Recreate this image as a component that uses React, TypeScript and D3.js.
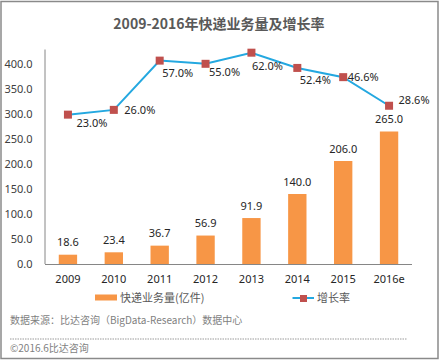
import React from "react";
import * as d3 from "d3";

const categories = ["2009", "2010", "2011", "2012", "2013", "2014", "2015", "2016e"];
const volume = [18.6, 23.4, 36.7, 56.9, 91.9, 140.0, 206.0, 265.0];
const growth = [23.0, 26.0, 57.0, 55.0, 62.0, 52.4, 46.6, 28.6];
const yTicks = [0, 50, 100, 150, 200, 250, 300, 350, 400];

// layout: manual label offsets for growth labels (dx, dy) relative to marker
const growthLabelOffsets: [number, number][] = [
  [24, 8], [26, 0], [18, 12], [19, 8], [16, 13], [18, 12], [20, 0], [25, -6],
];

const W = 440, H = 361;
const left = 45, right = 412, top = 49.5, bottom = 264;
const font = "'Noto Sans', 'Noto Sans CJK SC', sans-serif";
const cjk = "'Noto Sans CJK SC', 'Noto Sans', sans-serif";

export default function App() {
  const xc = d3.scaleBand<string>().domain(categories).range([left, right]);
  const y = d3.scaleLinear().domain([0, 429]).range([bottom, top]);
  const y2 = d3.scaleLinear().domain([-71, 64]).range([bottom, top]);
  const cxOf = (c: string) => xc(c)! + xc.bandwidth() / 2;
  const line = d3.line<number>().x((_, i) => cxOf(categories[i])).y((d) => y2(d));
  const bw = xc.bandwidth() * 0.4;

  return (
    <svg width={W} height={H} style={{ position: "absolute", left: 0, top: 0 }}>
      <rect x={0} y={0} width={W} height={H} fill="#fff" />
      <rect x={1} y={1.5} width={437} height={357} fill="none" stroke="#8a8a8a" strokeWidth={1.5} />
      <text x={219} y={28.5} textAnchor="middle" fontFamily={cjk} fontSize={14} fontWeight="bold" fill="#595959">
        2009-2016年快递业务量及增长率
      </text>
      {yTicks.map((t) => (
        <text key={t} x={32.5} y={y(t) + 4} textAnchor="end" fontFamily={font} fontSize={11} fill="#404040">
          {t.toFixed(1)}
        </text>
      ))}
      {categories.map((c, i) => {
        const cx = cxOf(c);
        return (
          <g key={c}>
            <rect x={cx - bw / 2} y={y(volume[i])} width={bw} height={bottom - y(volume[i])} fill="#F79646" />
            <text x={cx} y={y(volume[i]) - 8.5} textAnchor="middle" fontFamily={font} fontSize={11} fill="#262626">
              {volume[i].toFixed(1)}
            </text>
            <text x={cx} y={282.5} textAnchor="middle" fontFamily={font} fontSize={11} fill="#262626">
              {c}
            </text>
          </g>
        );
      })}
      <line x1={left} x2={left} y1={top} y2={bottom} stroke="#868686" strokeWidth={1} />
      <line x1={left} x2={right} y1={bottom + 0.5} y2={bottom + 0.5} stroke="#868686" strokeWidth={1} />
      <path d={line(growth)!} fill="none" stroke="#24A8E0" strokeWidth={2} />
      {growth.map((g, i) => {
        const cx = cxOf(categories[i]);
        const cy = y2(g);
        const [dx, dy] = growthLabelOffsets[i];
        return (
          <g key={i}>
            <rect x={cx - 4} y={cy - 4} width={8} height={8} fill="#C0504D" />
            <text x={cx + dx} y={cy + dy + 4} textAnchor="middle" fontFamily={font} fontSize={11} fill="#262626">
              {g.toFixed(1)}%
            </text>
          </g>
        );
      })}
      {/* legend */}
      <rect x={95} y={294.5} width={22} height={6} fill="#F79646" />
      <text x={120} y={302} fontFamily={cjk} fontSize={11} fill="#595959">快递业务量(亿件)</text>
      <line x1={292.5} x2={314} y1={298} y2={298} stroke="#24A8E0" strokeWidth={2} />
      <rect x={300} y={295} width={7} height={7} fill="#C0504D" />
      <text x={317} y={302} fontFamily={cjk} fontSize={11} fill="#595959">增长率</text>
      {/* footer */}
      <text x={10} y={324} fontFamily={cjk} fontSize={10} fill="#7f7f7f">数据来源：比达咨询（BigData-Research）数据中心</text>
      <line x1={10} x2={407} y1={339} y2={339} stroke="#9a9a9a" strokeWidth={1} strokeDasharray="1.5,1" />
      <text x={10} y={352} fontFamily={cjk} fontSize={10} fill="#7f7f7f">©2016.6比达咨询</text>
    </svg>
  );
}
